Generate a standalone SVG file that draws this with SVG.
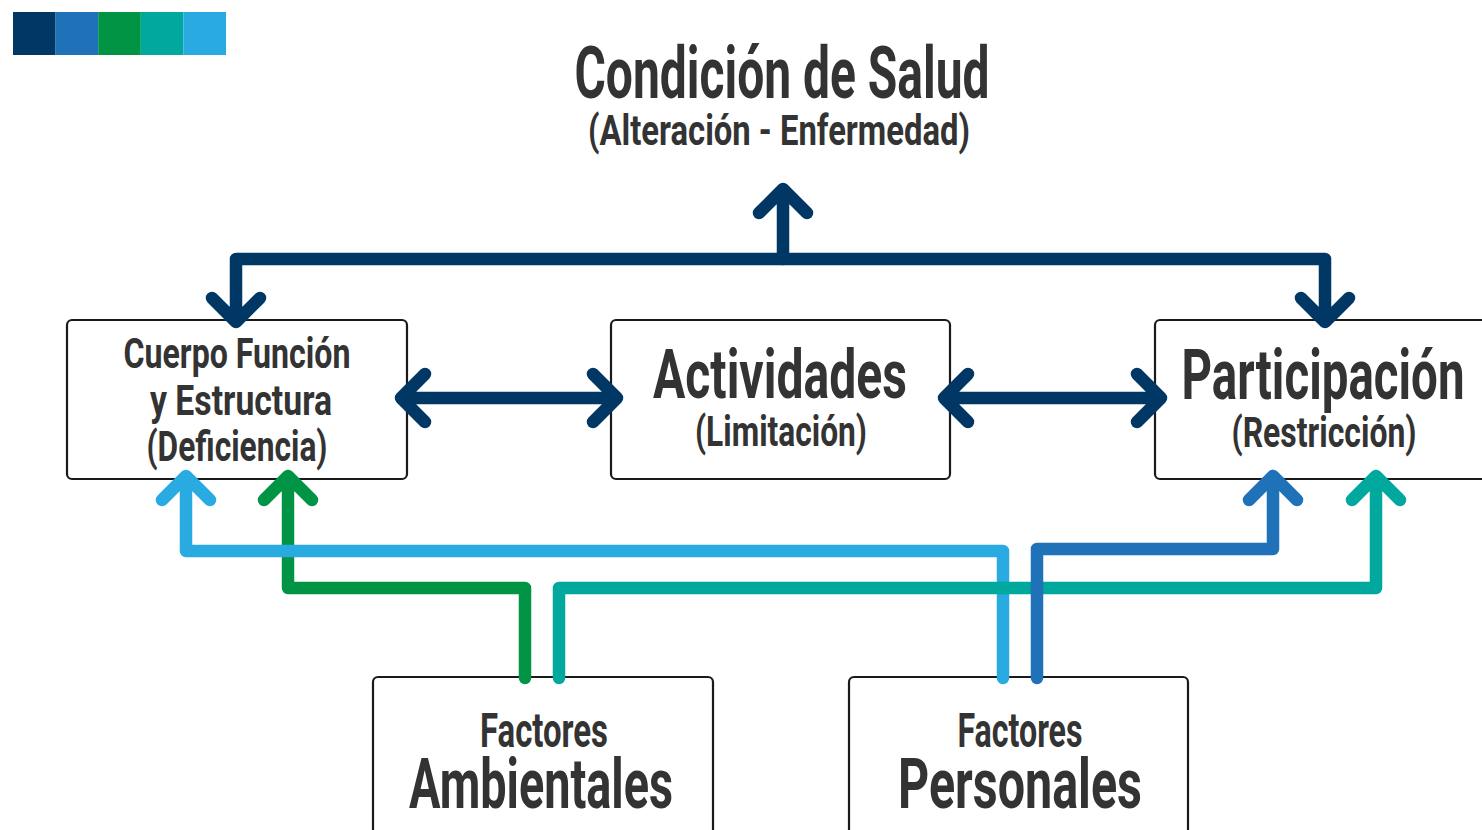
<svg xmlns="http://www.w3.org/2000/svg" width="1482" height="830" viewBox="0 0 1482 830">
<defs>
<style>
.box{fill:#fff;stroke:#1a1a1a;stroke-width:2.2}
.t{font-family:Roboto,"Liberation Sans",sans-serif;font-weight:bold;fill:#333333;text-anchor:middle}
.c{fill:none;stroke-width:12.5;stroke-linecap:round;stroke-linejoin:round}
.navy{stroke:#003764}
.blue{stroke:#1f71b8}
.green{stroke:#009444}
.teal{stroke:#00a89d}
.lblue{stroke:#29abe2}
</style>
</defs>
<rect width="1482" height="830" fill="#fff"/>
<g id="palette">
<rect x="13" y="12" width="42.6" height="43" fill="#003764"/>
<rect x="55.6" y="12" width="42.6" height="43" fill="#1f71b8"/>
<rect x="98.2" y="12" width="42.6" height="43" fill="#009444"/>
<rect x="140.8" y="12" width="42.6" height="43" fill="#00a89d"/>
<rect x="183.4" y="12" width="42.6" height="43" fill="#29abe2"/>
</g>
<g id="title">
<text class="t" x="782" y="98" font-size="72" textLength="415" lengthAdjust="spacingAndGlyphs">Condición de Salud</text>
<text class="t" x="779" y="145" font-size="42" textLength="382" lengthAdjust="spacingAndGlyphs">(Alteración - Enfermedad)</text>
</g>
<g id="cuerpo">
<rect class="box" x="67" y="320" width="340" height="159" rx="5"/>
<text class="t" x="237" y="368" font-size="43" textLength="227" lengthAdjust="spacingAndGlyphs">Cuerpo Función</text>
<text class="t" x="241" y="415" font-size="43" textLength="182" lengthAdjust="spacingAndGlyphs">y Estructura</text>
<text class="t" x="237" y="461" font-size="43" textLength="181" lengthAdjust="spacingAndGlyphs">(Deficiencia)</text>
</g>
<g id="actividades">
<rect class="box" x="611" y="320" width="339" height="159" rx="5"/>
<text class="t" x="780" y="398" font-size="68" textLength="254" lengthAdjust="spacingAndGlyphs">Actividades</text>
<text class="t" x="781" y="446" font-size="42" textLength="172" lengthAdjust="spacingAndGlyphs">(Limitación)</text>
</g>
<g id="participacion">
<rect class="box" x="1155" y="320" width="340" height="159" rx="5"/>
<text class="t" x="1323" y="399" font-size="70" textLength="283" lengthAdjust="spacingAndGlyphs">Participación</text>
<text class="t" x="1324" y="447" font-size="42" textLength="185" lengthAdjust="spacingAndGlyphs">(Restricción)</text>
</g>
<g id="ambientales">
<rect class="box" x="373" y="677" width="340" height="170" rx="5"/>
<text class="t" x="544" y="747" font-size="49" textLength="128" lengthAdjust="spacingAndGlyphs">Factores</text>
<text class="t" x="541" y="808" font-size="70" textLength="264" lengthAdjust="spacingAndGlyphs">Ambientales</text>
</g>
<g id="personales">
<rect class="box" x="849" y="677" width="339" height="170" rx="5"/>
<text class="t" x="1020" y="747" font-size="49" textLength="125" lengthAdjust="spacingAndGlyphs">Factores</text>
<text class="t" x="1020" y="808" font-size="70" textLength="244" lengthAdjust="spacingAndGlyphs">Personales</text>
</g>
<g id="connectors">
<path class="c navy" d="M236,322 L236,259 L1325,259 L1325,322 M212,298 L236,322 L260,298 M1301,298 L1325,322 L1349,298"/>
<path class="c navy" d="M783,259 L783,189 M759,213 L783,189 L807,213"/>
<path class="c navy" d="M401,398 L617,398 M425,374 L401,398 L425,422 M593,374 L617,398 L593,422"/>
<path class="c navy" d="M944,398 L1161,398 M968,374 L944,398 L968,422 M1137,374 L1161,398 L1137,422"/>
<path class="c green" d="M525,678 L525,588 L288,588 L288,476 M264,500 L288,476 L312,500"/>
<path class="c lblue" d="M1003,678 L1003,551 L186,551 L186,476 M162,500 L186,476 L210,500"/>
<path class="c teal" d="M559,678 L559,588 L1376,588 L1376,476 M1352,500 L1376,476 L1400,500"/>
<path class="c blue" d="M1037,678 L1037,549 L1273,549 L1273,476 M1249,500 L1273,476 L1297,500"/>
</g>
</svg>
